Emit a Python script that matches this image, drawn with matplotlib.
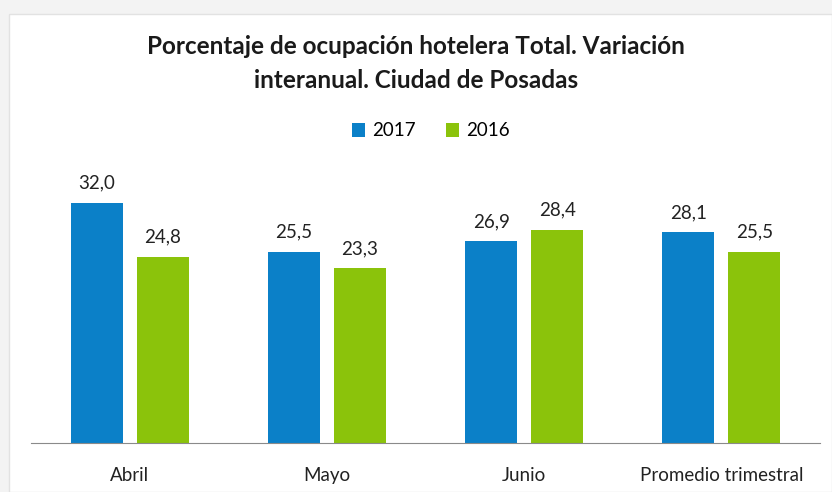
import numpy as np
import matplotlib.pyplot as plt
from matplotlib.patches import Rectangle

categorias = ["Abril", "Mayo", "Junio", "Promedio trimestral"]
v2017 = [32.0, 25.5, 26.9, 28.1]
v2016 = [24.8, 23.3, 28.4, 25.5]
series = ["2017", "2016"]

azul = "#0b80c8"
verde = "#8bc30b"

plt.rcParams['font.family'] = ['Lato', 'DejaVu Sans']

fig = plt.figure(figsize=(8.32, 4.92), dpi=100)
fig.patch.set_facecolor("#f3f3f3")
# marco blanco del grafico
fig.patches.append(Rectangle((9/832, 0), 1 - 9/832, 1 - 14/492, transform=fig.transFigure,
                             facecolor="white", edgecolor="#e2e2e2", lw=1, zorder=-10))

ax = fig.add_axes([31/832, 49/492, 789/832, 300/492])
ax.set_facecolor("none")
x = np.arange(len(categorias))
w = 0.264
off = 0.1675
b1 = ax.bar(x - off, v2017, w, color=azul, label=series[0])
b2 = ax.bar(x + off, v2016, w, color=verde, label=series[1])

for barras in (b1, b2):
    for b in barras:
        ax.text(b.get_x() + b.get_width()/2, b.get_height() + 1.5,
                f"{b.get_height():.1f}".replace(".", ","),
                ha="center", va="bottom", fontsize=13.5, color="#222222")

ax.set_xlim(-0.5, 3.5)
ax.set_ylim(0, 40)
ax.set_yticks([])
for s in ["top", "right", "left"]:
    ax.spines[s].set_visible(False)
ax.spines["bottom"].set_color("#8a8a8a")
ax.set_xticks(x)
ax.set_xticklabels(categorias, fontsize=13.5, color="#222222")
ax.tick_params(axis="x", length=0, pad=17)

fig.text(0.5, 1 - 47/492, "Porcentaje de ocupación hotelera Total. Variación",
         ha="center", va="center", fontsize=17.5, fontweight="bold", color="#1a1a1a")
fig.text(0.5, 1 - 80/492, "interanual. Ciudad de Posadas",
         ha="center", va="center", fontsize=17.5, fontweight="bold", color="#1a1a1a")

fig.legend(handles=[b1, b2], labels=series, loc="center", bbox_to_anchor=(0.518, 1 - 131/492),
           ncol=2, frameon=False, fontsize=13.5, handlelength=0.7, handleheight=0.7,
           handletextpad=0.4, columnspacing=1.6)

fig.savefig("out.png", dpi=100, facecolor=fig.get_facecolor())
